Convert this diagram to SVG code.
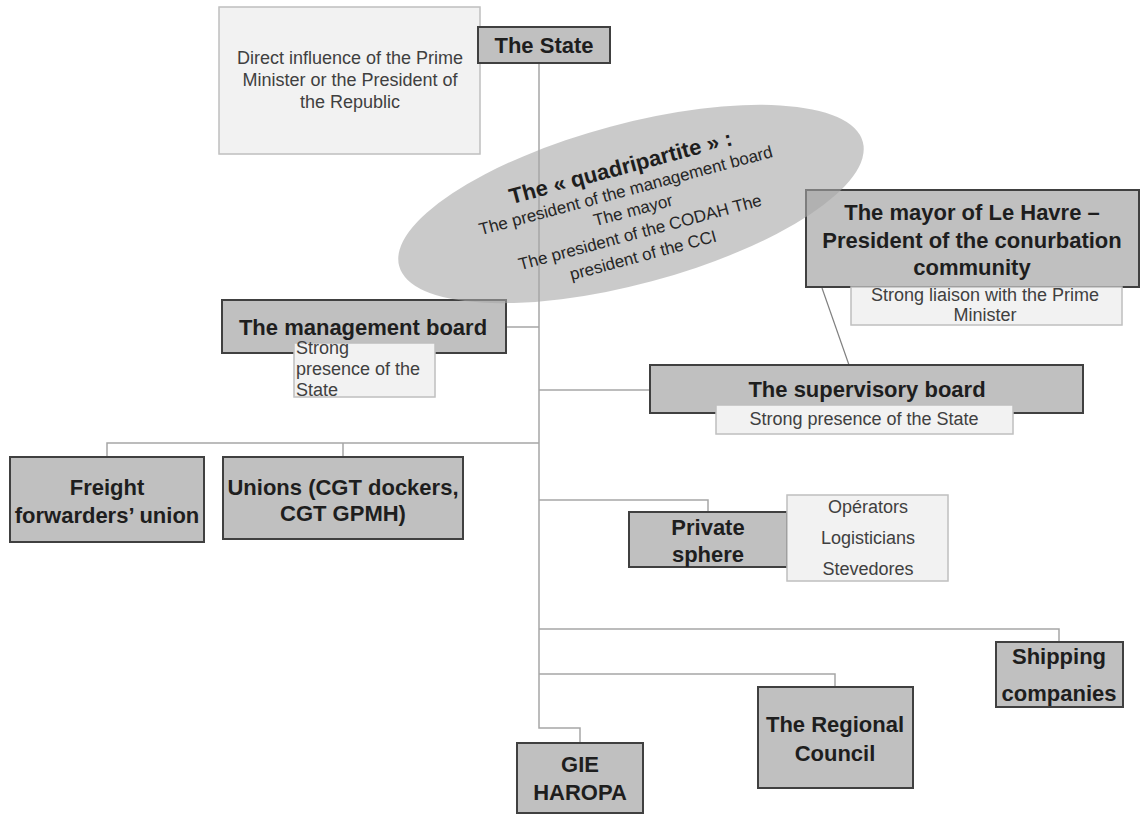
<svg xmlns="http://www.w3.org/2000/svg" width="1141" height="814" viewBox="0 0 1141 814">
<style>
.box{fill:#c0c0c0;stroke:#404040;stroke-width:2}
.note{fill:#f2f2f2;stroke:#bfbfbf;stroke-width:1.5}
.b{font-family:"Liberation Sans",Arial,sans-serif;font-weight:bold;font-size:22px;fill:#1e1e1e;text-anchor:middle}
.n{font-family:"Liberation Sans",Arial,sans-serif;font-size:18px;fill:#404040;text-anchor:middle}
.nl{font-family:"Liberation Sans",Arial,sans-serif;font-size:18px;fill:#404040}
.e{font-family:"Liberation Sans",Arial,sans-serif;font-size:17px;fill:#262626;text-anchor:middle}
.et{font-family:"Liberation Sans",Arial,sans-serif;font-size:22px;font-weight:bold;fill:#1e1e1e;text-anchor:middle}
.c{fill:none;stroke:#a6a6a6;stroke-width:1.5}
</style>
<rect width="1141" height="814" fill="#ffffff"/>
<g id="connectors">
<path class="c" d="M539 63 V728 H580 V743"/>
<path class="c" d="M506 327 H539"/>
<path class="c" d="M539 390 H650"/>
<path class="c" d="M539 443 H107 V457 M343 443 V457"/>
<path class="c" d="M539 500 H708 V512"/>
<path class="c" d="M539 629 H1059 V642"/>
<path class="c" d="M539 674 H835 V687"/>
<path d="M822 288 L849 365" fill="none" stroke="#808080" stroke-width="1.2"/>
</g>
<g id="direct-influence">
<rect class="note" x="219" y="7" width="261" height="147"/>
<text class="n" x="350" y="64">Direct influence of the Prime</text>
<text class="n" x="350" y="86">Minister or the President of</text>
<text class="n" x="350" y="108">the Republic</text>
</g>
<g id="the-state">
<rect class="box" x="478" y="27" width="132" height="36"/>
<text class="b" x="544" y="53">The State</text>
</g>
<g id="management-board">
<rect class="box" x="222" y="300" width="284" height="53"/>
<text class="b" x="363" y="335">The management board</text>
</g>
<g id="management-note">
<rect class="note" x="294" y="343" width="141" height="54"/>
<text class="nl" x="296" y="354">Strong</text>
<text class="nl" x="296" y="375">presence of the</text>
<text class="nl" x="296" y="396">State</text>
</g>
<g id="mayor">
<rect class="box" x="806" y="190" width="333" height="97"/>
<text class="b" x="972" y="220">The mayor of Le Havre –</text>
<text class="b" x="972" y="248">President of the conurbation</text>
<text class="b" x="972" y="275">community</text>
</g>
<g id="mayor-note">
<rect class="note" x="851" y="287" width="271" height="38"/>
<text class="n" x="985" y="301">Strong liaison with the Prime</text>
<text class="n" x="985" y="321">Minister</text>
</g>
<g id="supervisory-board">
<rect class="box" x="650" y="365" width="433" height="48"/>
<text class="b" x="867" y="397">The supervisory board</text>
</g>
<g id="supervisory-note">
<rect class="note" x="716" y="405" width="297" height="29"/>
<text class="n" x="864" y="425">Strong presence of the State</text>
</g>
<g id="freight">
<rect class="box" x="10" y="457" width="194" height="85"/>
<text class="b" x="107" y="495">Freight</text>
<text class="b" x="107" y="523">forwarders’ union</text>
</g>
<g id="unions">
<rect class="box" x="223" y="457" width="240" height="82"/>
<text class="b" x="343" y="495">Unions (CGT dockers,</text>
<text class="b" x="343" y="521">CGT GPMH)</text>
</g>
<g id="private-sphere">
<rect class="box" x="629" y="512" width="158" height="55"/>
<text class="b" x="708" y="535">Private</text>
<text class="b" x="708" y="562">sphere</text>
</g>
<g id="operators">
<rect class="note" x="787" y="495" width="161" height="86"/>
<text class="n" x="868" y="513">Opérators</text>
<text class="n" x="868" y="544">Logisticians</text>
<text class="n" x="868" y="575">Stevedores</text>
</g>
<g id="shipping">
<rect class="box" x="996" y="642" width="127" height="65"/>
<text class="b" x="1059" y="664">Shipping</text>
<text class="b" x="1059" y="701">companies</text>
</g>
<g id="regional-council">
<rect class="box" x="758" y="687" width="155" height="101"/>
<text class="b" x="835" y="732">The Regional</text>
<text class="b" x="835" y="761">Council</text>
</g>
<g id="gie-haropa">
<rect class="box" x="517" y="743" width="126" height="70"/>
<text class="b" x="580" y="772">GIE</text>
<text class="b" x="580" y="800">HAROPA</text>
</g>
<g id="quadripartite">
<ellipse cx="631" cy="204" rx="240" ry="80" transform="rotate(-15 631 204)" fill="#a6a6a6" fill-opacity="0.6"/>
<g transform="translate(633 210) rotate(-15)">
<text class="et" x="-1" y="-37">The « quadripartite » :</text>
<text class="e" x="-2" y="-15">The president of the management board</text>
<text class="e" x="0" y="6">The mayor</text>
<text class="e" x="1" y="29">The president of the CODAH  The</text>
<text class="e" x="-2" y="52">president of the CCI</text>
</g>
</g>
</svg>
